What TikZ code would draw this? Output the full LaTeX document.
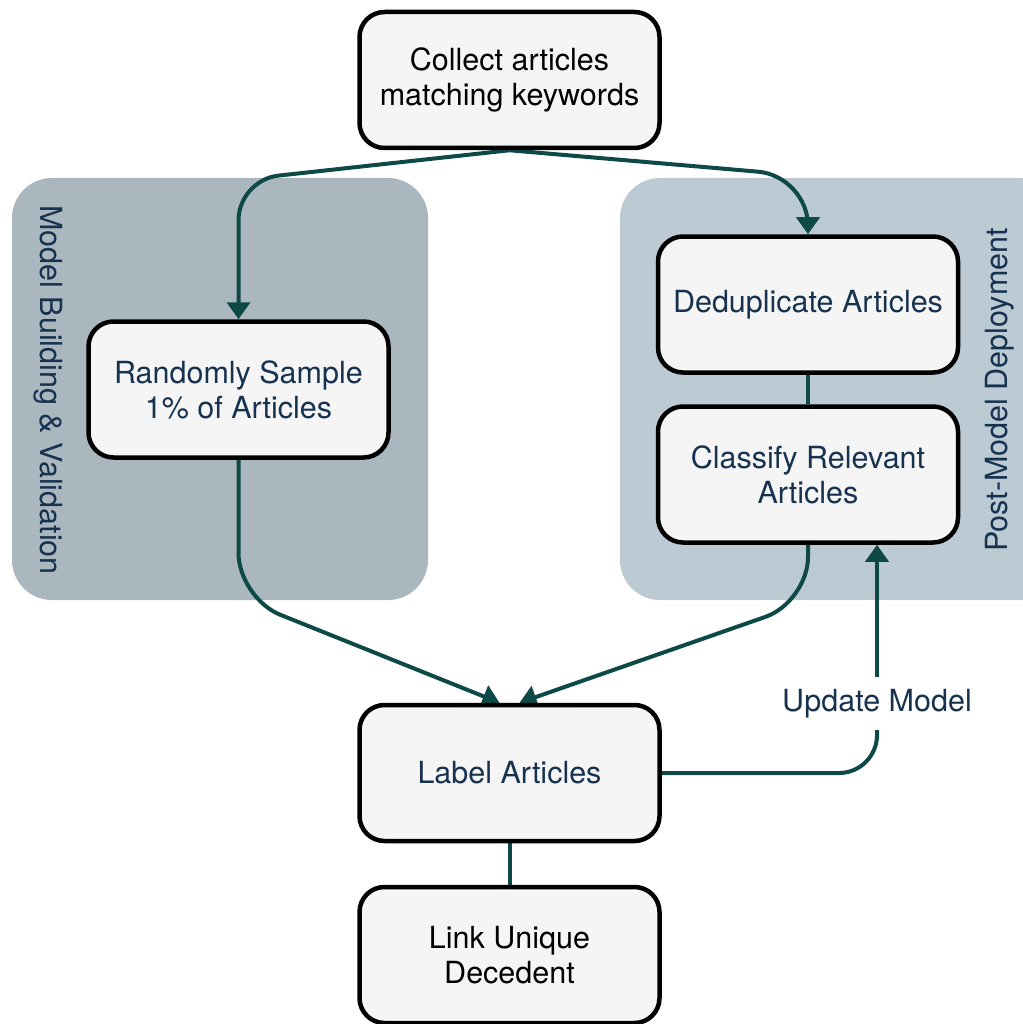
\documentclass[tikz,border=0pt]{standalone}
\usepackage{fontspec}
\setmainfont{TeX Gyre Heros}
\usetikzlibrary{arrows.meta,backgrounds}
\definecolor{navy}{HTML}{16324F}
\definecolor{teal2}{HTML}{0D4A47}
\definecolor{grpL}{HTML}{AAB7BE}
\definecolor{grpR}{HTML}{BCCAD3}
\definecolor{boxfill}{HTML}{F5F5F5}
\tikzset{
  stepbox/.style={draw=black, line width=4.5pt, fill=boxfill, rounded corners=25pt,
    minimum width=300pt, minimum height=136pt, align=center, inner sep=0pt,
    font=\fontsize{30.5}{35}\selectfont},
  conn/.style={draw=teal2, line width=4pt},
  tip/.style={-{Triangle[width=23pt,length=17pt]}},
  grp/.style={rounded corners=40pt},
  grplabel/.style={text=navy, font=\fontsize{30.5}{35}\selectfont, inner sep=0pt}
}
\begin{document}
\begin{tikzpicture}[x=1pt,y=-1pt]
\useasboundingbox (0,0) rectangle (1022,1024);
\node[stepbox, text=black] (col) at (509.5,80) {Collect articles\\matching keywords};
\node[stepbox, text=navy] (rnd) at (238.5,389.5) {Randomly Sample\\1\% of Articles};
\node[stepbox, text=navy] (ded) at (808,304.5) {Deduplicate Articles};
\node[stepbox, text=navy] (cls) at (808,474.5) {Classify Relevant\\Articles};
\node[stepbox, text=navy] (lab) at (509.5,773) {Label Articles};
\node[stepbox, text=black] (lnk) at (509.5,955) {Link Unique\\Decedent};
\node[grplabel, rotate=-90] (lgl) at (48,390) {Model Building \& Validation};
\node[grplabel, rotate=90] (rgl) at (1000,390) {Post-Model Deployment};
\node[text=navy, fill=white, font=\fontsize{30.5}{35}\selectfont, inner sep=0pt,
  minimum width=244pt, minimum height=53pt] (um) at (877,703.5) {Update Model};
\begin{pgfonlayer}{background}
  \fill[grpL, grp] (12,178) rectangle (428,600);
  \fill[grpR, grp] (620,178) rectangle (1062,600);
  \draw[conn, tip, rounded corners=40pt] (col.south) -- (238.5,180) -- (rnd.north);
  \draw[conn, tip, rounded corners=50pt] (col.south) -- (808,176) -- (ded.north);
  \draw[conn, tip, rounded corners=45pt] (rnd.south) -- (238.5,598) -- ([xshift=-10pt]lab.north);
  \draw[conn, tip, rounded corners=45pt] (cls.south) -- (808,602) -- ([xshift=10pt]lab.north);
  \draw[conn, rounded corners=38pt] (lab.east) -- (877,773) -- (um.south);
  \draw[conn, tip] (um.north) -- (um.north |- cls.south);
  \draw[conn] (ded.south) -- (cls.north);
  \draw[conn] (lab.south) -- (lnk.north);
\end{pgfonlayer}
\end{tikzpicture}
\end{document}
